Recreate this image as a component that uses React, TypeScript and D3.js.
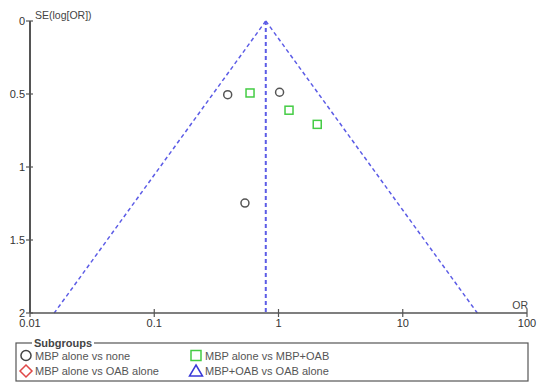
import React, { useEffect, useRef } from "react";
import * as d3 from "d3";

// subgroup labels (legend order: column 1 then column 2)
const subgroupNames = [
  "MBP alone vs none",
  "MBP alone vs OAB alone",
  "MBP alone vs MBP+OAB",
  "MBP+OAB vs OAB alone",
];

// studies
const noneOR = [0.39, 1.02, 0.537];
const noneSE = [0.505, 0.488, 1.247];
const mbpOabOR = [0.59, 1.215, 2.05];
const mbpOabSE = [0.493, 0.611, 0.708];

const pooledOR = 0.79;
const xTicks = [0.01, 0.1, 1, 10, 100];
const yTicks = [0, 0.5, 1, 1.5, 2];

const FONT = "'Liberation Sans', Arial, sans-serif";

export default function App() {
  const ref = useRef<SVGSVGElement>(null);

  useEffect(() => {
    const svg = d3.select(ref.current);
    svg.selectAll("*").remove();

    const x = d3.scaleLog().domain([0.01, 100]).range([30, 527]);
    const y = d3.scaleLinear().domain([0, 2]).range([21, 313]);

    const axisColor = "#555";
    const g = svg.append("g");

    // funnel lines
    const blue = "#5c5ce6";
    const seMax = 2;
    const lo = pooledOR * Math.exp(-1.96 * seMax);
    const hi = pooledOR * Math.exp(1.96 * seMax);
    const funnel = [
      [[pooledOR, 0], [lo, seMax]],
      [[pooledOR, 0], [hi, seMax]],
      [[pooledOR, 0], [pooledOR, seMax]],
    ];
    g.selectAll(".funnel")
      .data(funnel)
      .enter()
      .append("line")
      .attr("x1", (d) => x(d[0][0]))
      .attr("y1", (d) => y(d[0][1]))
      .attr("x2", (d) => x(d[1][0]))
      .attr("y2", (d) => y(d[1][1]))
      .attr("stroke", blue)
      .attr("stroke-width", (d, i) => (i === 2 ? 2 : 1.5))
      .attr("stroke-dasharray", "4,3");

    // y axis
    g.append("line")
      .attr("x1", x(0.01)).attr("x2", x(0.01))
      .attr("y1", y(0)).attr("y2", y(2))
      .attr("stroke", axisColor).attr("stroke-width", 2);
    yTicks.forEach((t) => {
      g.append("line")
        .attr("x1", x(0.01) - 4).attr("x2", x(0.01) + 3)
        .attr("y1", y(t)).attr("y2", y(t))
        .attr("stroke", axisColor).attr("stroke-width", 1.2);
      g.append("text")
        .attr("x", x(0.01) - 5)
        .attr("y", y(t) + 4)
        .attr("text-anchor", "end")
        .style("font-family", FONT)
        .style("font-size", "11px")
        .attr("fill", "#333")
        .text(String(t));
    });

    // x axis
    g.append("line")
      .attr("x1", x(0.01)).attr("x2", x(100))
      .attr("y1", y(2)).attr("y2", y(2))
      .attr("stroke", axisColor).attr("stroke-width", 1.5);
    xTicks.forEach((t) => {
      g.append("line")
        .attr("x1", x(t)).attr("x2", x(t))
        .attr("y1", y(2) - 4).attr("y2", y(2) + 4)
        .attr("stroke", axisColor).attr("stroke-width", 1.2);
      g.append("text")
        .attr("x", x(t))
        .attr("y", y(2) + 14)
        .attr("text-anchor", "middle")
        .style("font-family", FONT)
        .style("font-size", "11px")
        .attr("fill", "#333")
        .text(String(t));
    });

    // axis titles
    g.append("text")
      .attr("x", 35).attr("y", 19)
      .style("font-family", FONT).style("font-size", "10.5px")
      .attr("fill", "#444")
      .text("SE(log[OR])");
    g.append("text")
      .attr("x", 528).attr("y", y(2) - 4)
      .attr("text-anchor", "end")
      .style("font-family", FONT).style("font-size", "10.5px")
      .attr("fill", "#444")
      .text("OR");

    // points
    const grey = "#555";
    const green = "#44cc44";
    g.selectAll(".circ")
      .data(noneOR.map((o, i) => ({ or: o, se: noneSE[i] })))
      .enter()
      .append("circle")
      .attr("cx", (d) => x(d.or))
      .attr("cy", (d) => y(d.se))
      .attr("r", 4)
      .attr("fill", "none")
      .attr("stroke", grey)
      .attr("stroke-width", 1.5);
    g.selectAll(".sq")
      .data(mbpOabOR.map((o, i) => ({ or: o, se: mbpOabSE[i] })))
      .enter()
      .append("rect")
      .attr("x", (d) => x(d.or) - 4)
      .attr("y", (d) => y(d.se) - 4)
      .attr("width", 8)
      .attr("height", 8)
      .attr("fill", "none")
      .attr("stroke", green)
      .attr("stroke-width", 1.5);

    // legend
    const lg = svg.append("g");
    lg.append("rect")
      .attr("x", 16).attr("y", 343)
      .attr("width", 512).attr("height", 38)
      .attr("fill", "none")
      .attr("stroke", axisColor)
      .attr("stroke-width", 1.2);
    lg.append("rect")
      .attr("x", 32).attr("y", 338)
      .attr("width", 62).attr("height", 10)
      .attr("fill", "white");
    lg.append("text")
      .attr("x", 34).attr("y", 347)
      .style("font-family", FONT).style("font-size", "11px")
      .style("font-weight", "bold")
      .attr("fill", "#444")
      .text("Subgroups");

    const cols = [26, 196];
    const rows = [355.5, 371];
    // legend marker outlines, centred on (0,0)
    const shapes = [
      d3.symbol().type(d3.symbolCircle).size(80)(),
      "M0,-6L6,0L0,6L-6,0Z",
      "M-5,-5H5V5H-5Z",
      "M0,-6L6.5,5H-6.5Z",
    ];
    const colors = ["#444", "#e04848", green, "#3a3ad8"];
    subgroupNames.forEach((name, i) => {
      const cx = cols[Math.floor(i / 2)];
      const cy = rows[i % 2];
      lg.append("path")
        .attr("d", shapes[i])
        .attr("transform", `translate(${cx},${cy})`)
        .attr("fill", "none")
        .attr("stroke", colors[i])
        .attr("stroke-width", 1.5);
      lg.append("text")
        .attr("x", cx + 9).attr("y", cy + 4)
        .style("font-family", FONT).style("font-size", "11px")
        .attr("fill", "#555")
        .text(name);
    });
  }, []);

  return (
    <svg
      ref={ref}
      width={537}
      height={382}
      style={{ position: "absolute", left: 0, top: 0, background: "white" }}
    />
  );
}
